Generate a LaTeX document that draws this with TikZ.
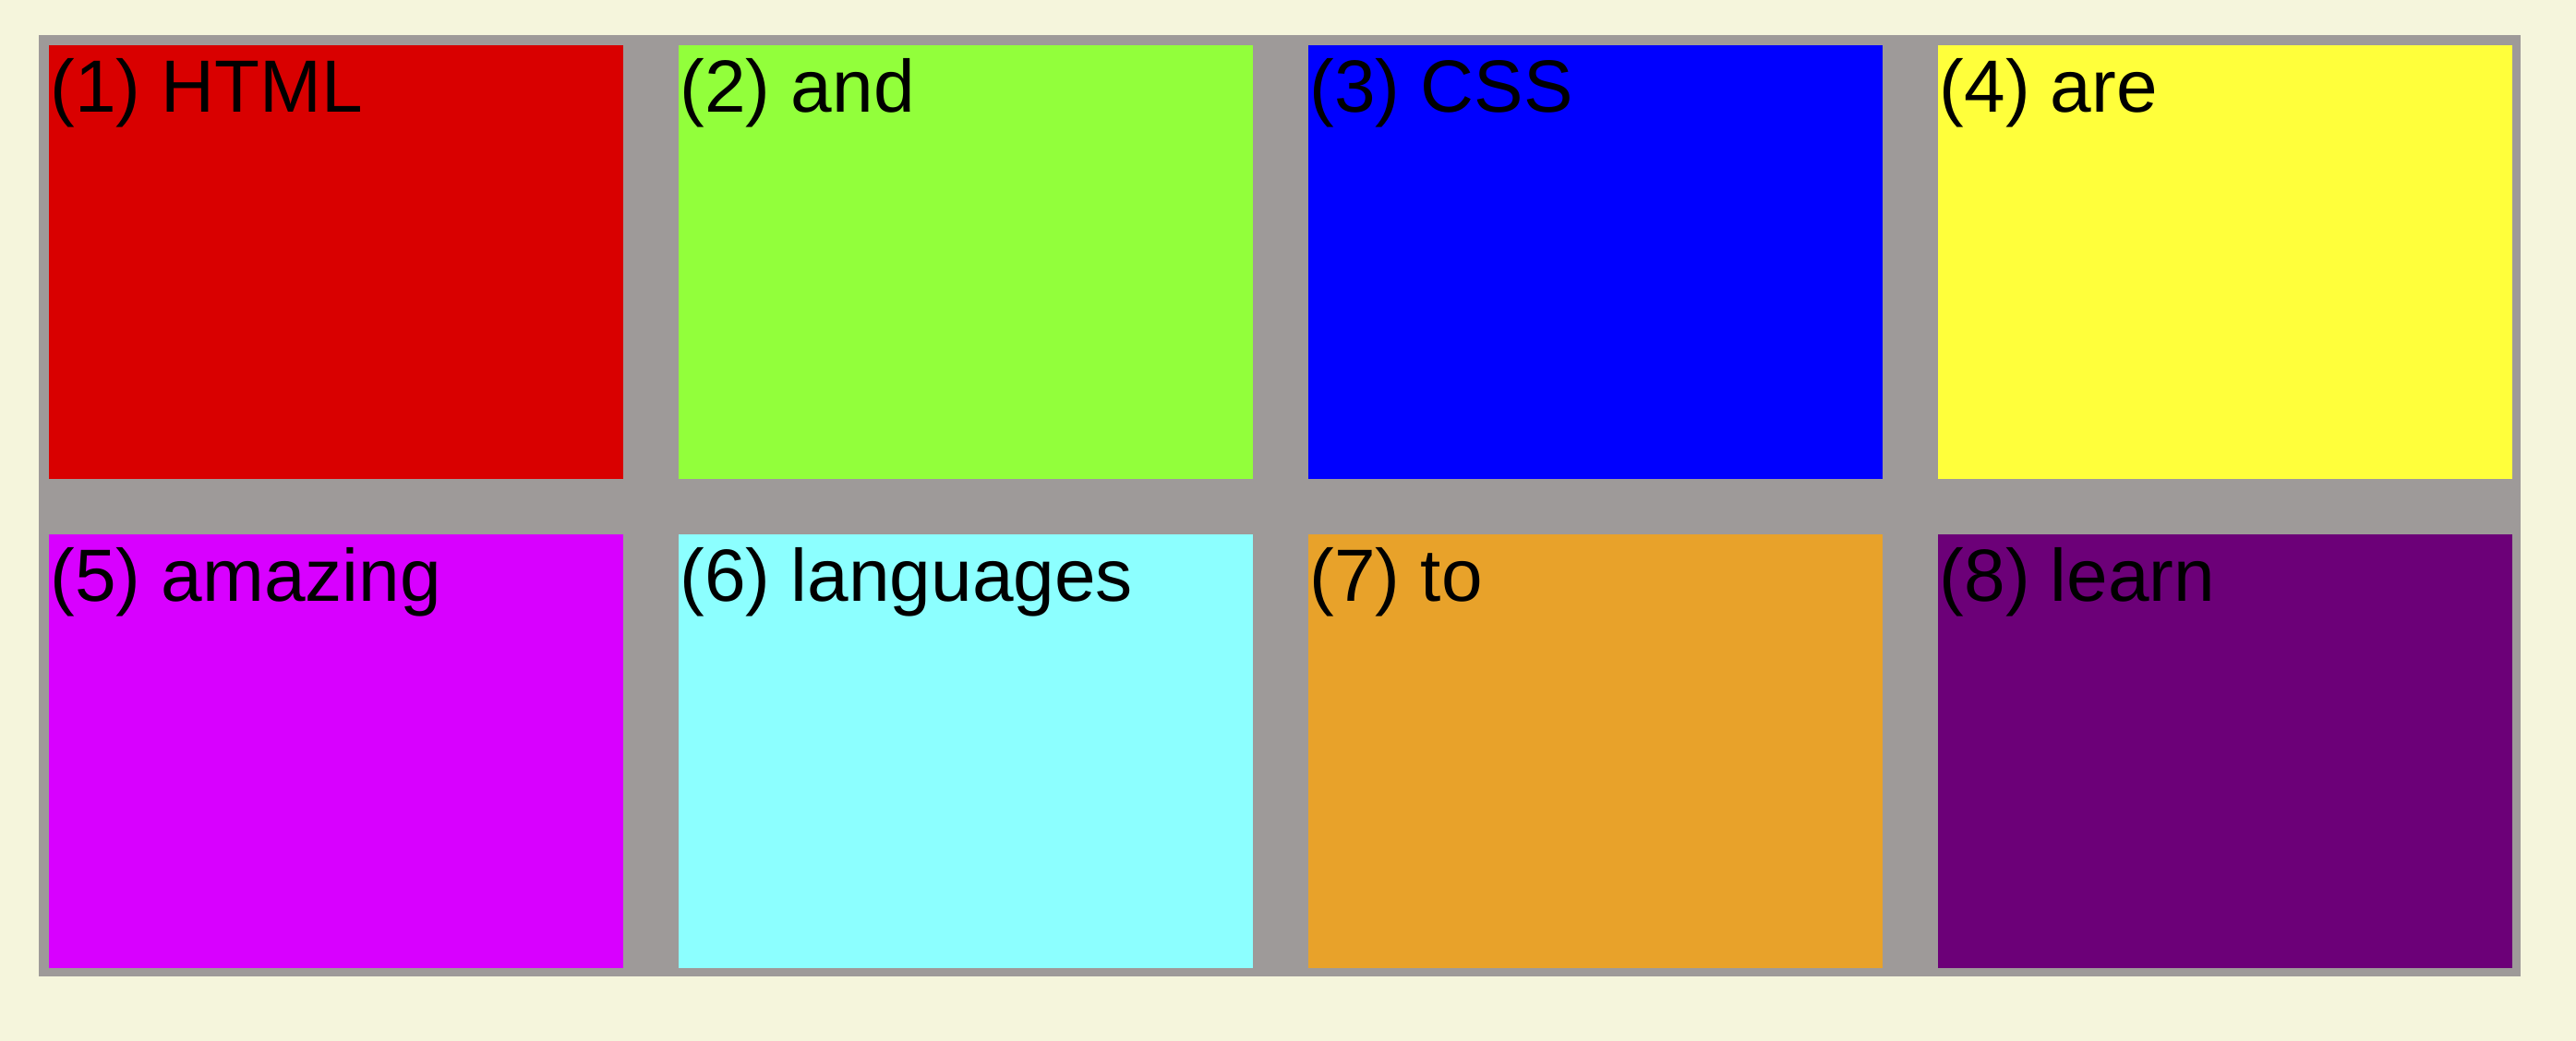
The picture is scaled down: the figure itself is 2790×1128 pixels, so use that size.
\documentclass[tikz,border=0pt]{standalone}
\usepackage{fontspec}
\setmainfont{Liberation Sans}
\definecolor{pagebg}{RGB}{245,245,220}
\definecolor{framegray}{RGB}{158,154,153}
\definecolor{cellred}{RGB}{217,0,0}
\definecolor{cellgreen}{RGB}{146,255,59}
\definecolor{cellblue}{RGB}{0,0,255}
\definecolor{cellyellow}{RGB}{255,255,59}
\definecolor{cellmagenta}{RGB}{216,0,255}
\definecolor{cellcyan}{RGB}{140,255,255}
\definecolor{cellorange}{RGB}{232,162,42}
\definecolor{cellpurple}{RGB}{108,0,120}
\tikzset{
    cell/.style={anchor=north west,inner sep=0pt,minimum width=6.22cm,minimum height=4.7cm},
    word/.style={anchor=base west,inner sep=0pt,font=\fontsize{22.8}{27}\selectfont}
}
% #1 name, #2 column, #3 row, #4 colour, #5 text
\newcommand\WordCell[5]{%
    \node[cell,fill=#4] (#1) at ({52+682*#2},{48+530*#3}) {};
    \path (#1.north west) ++(2,74) node[word] (#1text) {#5};
}

\begin{document}
\begin{tikzpicture}[x=0.01cm,y=-0.01cm]
    \fill[pagebg] (0,0) rectangle (2790,1128);
    \fill[framegray] (42,38) rectangle (2730,1058);
    \WordCell{c1}{0}{0}{cellred}{(1) HTML}
    \WordCell{c2}{1}{0}{cellgreen}{(2) and}
    \WordCell{c3}{2}{0}{cellblue}{(3) CSS}
    \WordCell{c4}{3}{0}{cellyellow}{(4) are}
    \WordCell{c5}{0}{1}{cellmagenta}{(5) amazing}
    \WordCell{c6}{1}{1}{cellcyan}{(6) languages}
    \WordCell{c7}{2}{1}{cellorange}{(7) to}
    \WordCell{c8}{3}{1}{cellpurple}{(8) learn}
\end{tikzpicture}
\end{document}
